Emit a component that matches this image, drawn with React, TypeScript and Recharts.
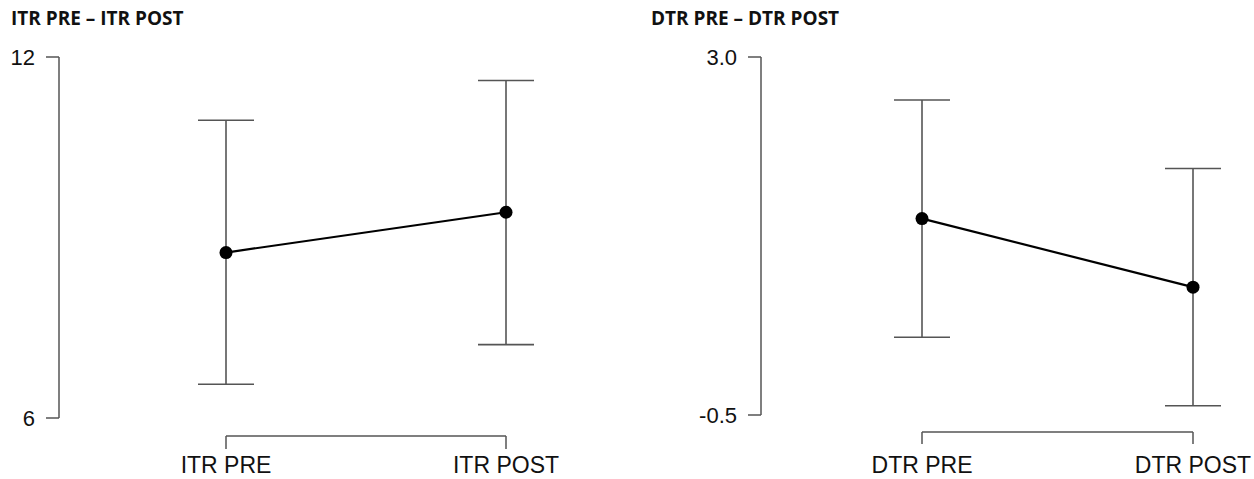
import { LineChart, Line, XAxis, YAxis, ErrorBar } from "recharts"

// left panel: ITR
const itrCategories = ["ITR PRE", "ITR POST"]
const itrMeans = [8.75, 9.42]
const itrLower = [6.56, 7.22]
const itrUpper = [10.95, 11.61]
const itrTicks = [6, 12]

// right panel: DTR
const dtrCategories = ["DTR PRE", "DTR POST"]
const dtrMeans = [1.42, 0.75]
const dtrLower = [0.26, -0.41]
const dtrUpper = [2.58, 1.91]
const dtrTicks = [-0.5, 3.0]

const FONT = "'Liberation Sans', Arial, sans-serif"
const AXIS = "#555"
const H = 479

const build = (cats: string[], means: number[], lo: number[], hi: number[]) =>
  cats.map((name, i) => ({
    name,
    mean: means[i],
    err: [means[i] - lo[i], hi[i] - means[i]],
  }))

interface PanelProps {
  title: string
  left: number
  width: number
  data: { name: string; mean: number; err: number[] }[]
  ticks: number[]
  fmt: (v: number) => string
  yAxisWidth: number
  plotBottom: number
  firstX: number // x of first category, panel coords
  lastX: number // x of last category
  bracketY: number
  tickSize: number
  tickMargin: number
}

function Panel(p: PanelProps) {
  const domain: [number, number] = [p.ticks[0], p.ticks[p.ticks.length - 1]]
  const plotRightGap = 54
  return (
    <div style={{ position: "absolute", left: p.left, top: 0, width: p.width, height: H }}>
      <div
        style={{
          position: "absolute",
          left: 11,
          top: 9,
          fontFamily: "'Open Sans', sans-serif",
          fontWeight: 700,
          fontSize: 19,
          lineHeight: "19px",
          color: "#111",
          whiteSpace: "nowrap",
        }}
      >
        {p.title}
      </div>
      {/* bracket-style x axis, spanning only first..last category */}
      <div style={{ position: "absolute", left: 0, top: 0 }}>
        <LineChart
          width={p.width}
          height={H}
          data={p.data}
          margin={{ top: 57, right: p.width - p.lastX, bottom: 0, left: p.firstX }}
        >
          <XAxis
            dataKey="name"
            scale="point"
            padding={{ left: 0, right: 0 }}
            height={H - p.bracketY}
            axisLine={{ stroke: AXIS, strokeWidth: 1.5 }}
            tickLine={{ stroke: AXIS, strokeWidth: 1.5 }}
            tickSize={p.tickSize}
            tickMargin={p.tickMargin}
            tick={{ fill: "#111", fontSize: 23, fontFamily: FONT }}
            interval={0}
          />
          <YAxis hide domain={domain} />
          <Line dataKey="mean" stroke="none" dot={false} activeDot={false} isAnimationActive={false} />
        </LineChart>
      </div>
      {/* y axis, means and error bars */}
      <div style={{ position: "absolute", left: 0, top: 0 }}>
        <LineChart
          width={p.width}
          height={H}
          data={p.data}
          margin={{ top: 57, right: p.width - p.lastX - plotRightGap, bottom: H - p.plotBottom, left: 0 }}
        >
          <XAxis
            dataKey="name"
            scale="point"
            hide
            padding={{ left: p.firstX - p.yAxisWidth, right: plotRightGap }}
          />
          <YAxis
            domain={domain}
            ticks={p.ticks}
            width={p.yAxisWidth}
            tickFormatter={p.fmt}
            axisLine={{ stroke: AXIS, strokeWidth: 1.5 }}
            tickLine={{ stroke: AXIS, strokeWidth: 1.5 }}
            tickSize={13}
            tickMargin={11}
            tick={{ fill: "#111", fontSize: 22, fontFamily: FONT }}
            interval={0}
          />
          <Line
            dataKey="mean"
            stroke="#000"
            strokeWidth={2.2}
            dot={{ r: 6.5, fill: "#000", stroke: "#000", strokeWidth: 0 }}
            activeDot={false}
            isAnimationActive={false}
          >
            <ErrorBar dataKey="err" width={28} stroke={AXIS} strokeWidth={1.6} direction="y" isAnimationActive={false} />
          </Line>
        </LineChart>
      </div>
    </div>
  )
}

export default function App() {
  return (
    <div style={{ position: "absolute", left: 0, top: 0, width: 1254, height: H, background: "#fff" }}>
      <Panel
        title="ITR PRE – ITR POST"
        left={0}
        width={620}
        data={build(itrCategories, itrMeans, itrLower, itrUpper)}
        ticks={itrTicks}
        fmt={(v) => String(v)}
        yAxisWidth={59}
        plotBottom={418}
        firstX={226}
        lastX={506}
        bracketY={436}
        tickSize={13}
        tickMargin={8}
      />
      <Panel
        title="DTR PRE – DTR POST"
        left={640}
        width={614}
        data={build(dtrCategories, dtrMeans, dtrLower, dtrUpper)}
        ticks={dtrTicks}
        fmt={(v) => v.toFixed(1)}
        yAxisWidth={121}
        plotBottom={415}
        firstX={282}
        lastX={553}
        bracketY={432}
        tickSize={12}
        tickMargin={13}
      />
    </div>
  )
}
